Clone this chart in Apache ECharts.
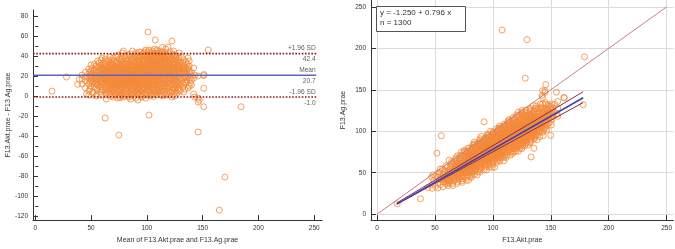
<!DOCTYPE html>
<html>
<head>
<meta charset="utf-8">
<script src="https://cdn.jsdelivr.net/npm/echarts@6/dist/echarts.min.js"></script>
<style>
  html, body { margin: 0; padding: 0; background: #fff; }
  #chart { width: 675px; height: 249px; }
</style>
</head>
<body>
<div id="chart"></div>
<script>
// Bland-Altman columns: mean of the two methods, and the differences read at that mean
const baMeans = [15, 28, 38, 39.5, 42, 45, 46, 48, 50, 52, 54.5, 57, 60, 62.7, 63.6, 64, 66, 68, 70, 72, 74, 75, 76, 78, 80, 82, 84, 85, 86, 88, 90, 92, 94, 95, 96, 98, 100, 101, 102, 104.5, 106, 107, 107.5, 108, 110, 112, 114, 116, 118, 119, 120, 122.5, 124, 126, 128, 130, 131, 132, 134, 136, 138, 140, 142, 143, 146, 147, 151, 155, 165, 170, 184.5];
const baDiffs = [
  [4.9], [19], [11.7], [16.6], [12, 17, 21], [8, 15, 19, 24], [2.3], [1, 5, 12, 18, 22, 27],
  [10, 16, 20, 25, 31], [3, 14, 19, 23], [0, 8, 12, 17, 21, 26, 30], [10, 15, 19, 24, 28, 33],
  [6, 11, 14, 18, 22, 26, 29, 38], [-22, 3, 9, 16, 20, 24, 30, 35], [-3], [1, 7, 12, 15, 18, 21, 25, 28],
  [5, 10, 14, 17, 20, 23, 27, 31, 36], [0, 8, 12, 16, 19, 22, 25, 29, 33],
  [-1, 4, 9, 13, 15, 18, 21, 24, 27, 31, 38], [2, 7, 11, 14, 17, 20, 22, 26, 30, 34],
  [-2, 5, 10, 13, 16, 19, 21, 24, 28, 32, 41], [-39],
  [-1.7, 1, 6, 9, 12, 15, 18, 20, 23, 26, 29, 35], [3, 8, 11, 14, 17, 19, 22, 25, 27, 31, 37, 43],
  [0, 5, 10, 13, 16, 18, 21, 24, 28, 33, 40], [2, 7, 12, 15, 17, 20, 23, 26, 30, 35],
  [-1, 4, 9, 11, 14, 19, 22, 25, 29, 32, 38], [42], [1, 6, 10, 13, 16, 18, 21, 24, 27, 31, 36],
  [3, 8, 12, 15, 17, 20, 23, 26, 30, 34, 39], [-2, 5, 9, 14, 16, 19, 22, 25, 28, 33, 37, 43],
  [-4, 2, 7, 11, 15, 18, 21, 24, 27, 30, 35, 41], [4, 9, 13, 17, 20, 23, 26, 29, 32, 38], [44],
  [0, 6, 11, 15, 19, 22, 25, 28, 31, 36, 42], [3, 8, 12, 16, 20, 24, 27, 30, 34, 39, 44],
  [1, 6, 10, 14, 18, 21, 25, 28, 33, 37, 41], [64], [-19, 4, 9, 13, 17, 22, 26, 29, 32, 36, 40, 46],
  [1.3, 7, 11, 15, 19, 23, 27, 31, 35, 38, 43], [-0.4, 5, 10, 16, 20, 24, 28, 32, 36, 40], [47], [56],
  [3, 8, 13, 18, 22, 26, 30, 34, 38, 42], [6, 11, 15, 20, 24, 27, 31, 35, 39, 45],
  [2, 9, 14, 18, 22, 26, 29, 33, 37, 41], [0, 7, 12, 17, 21, 25, 28, 32, 36, 40, 44, 48.5],
  [5, 10, 15, 19, 23, 27, 31, 34, 38, 43], [3, 9, 14, 21, 25, 28, 30, 35, 39], [49],
  [1, 8, 12, 18, 22, 26, 29, 33, 37, 42], [-1, 6, 11, 16, 20, 24, 28, 32, 36, 55],
  [2, 9, 14, 19, 23, 27, 31, 35, 40, 45], [5, 12, 17, 21, 25, 29, 33, 38], [8, 15, 20, 24, 28, 31, 36],
  [5, 11, 18, 23, 27, 30, 34], [38.7], [9, 13, 16, 22, 26, 33], [7, 14, 20, 25, 29], [16, 22, 27, 32],
  [10, 25, 30, 35], [11, 16, 20, 24], [2, 18, 28], [-1, 21], [-36, -2, -6, 20], [-4],
  [-10.7, 7.8, 20.5, 21.5], [46], [-114], [-81], [-10.7]
];

// more of the dense core, read between the columns above
const coreMeans = [49, 51, 53, 55.5, 56, 58.5, 59, 61, 63, 65, 67, 69, 71, 73, 75.5, 77, 79, 81, 83, 85.5, 87, 89, 91, 93, 95.5, 97, 99, 101.5, 103, 105, 107, 109, 111, 113, 115, 117, 119.5, 121, 123, 125, 127, 129, 133, 135, 137, 139];
const coreDiffs = [
  [7, 14, 20, 24], [4, 13, 18, 22, 28], [9, 16, 21, 26, 32], [2, 6, 14, 19, 23], [11, 17, 29, 35],
  [4, 9, 13, 17, 21, 25, 31], [1, 15, 20, 27, 36], [7, 12, 17, 21, 23, 28, 33],
  [5, 10, 14, 19, 22, 26, 32, 37], [3, 8, 13, 16, 19, 24, 29, 34], [2, 7, 11, 15, 18, 21, 26, 30, 39],
  [5, 10, 14, 17, 20, 23, 27, 32, 36], [1, 6, 11, 16, 19, 23, 25, 29, 35],
  [3, 8, 12, 15, 18, 22, 25, 28, 33, 39], [0, 4, 8, 11, 14, 17, 21, 24, 27, 31, 37],
  [2, 6, 10, 13, 16, 20, 24, 28, 33, 40], [-1, 4, 9, 12, 15, 21, 23, 26, 30, 35, 45],
  [2, 7, 11, 14, 17, 19, 22, 25, 29, 32, 38], [0, 5, 10, 13, 16, 18, 21, 24, 27, 31, 36, 41],
  [-3, 3, 7, 12, 15, 17, 20, 23, 26, 30, 34, 39], [2, 6, 11, 14, 19, 22, 25, 28, 32, 37, 45],
  [0, 4, 10, 13, 16, 18, 21, 24, 27, 31, 35, 41], [3, 7, 12, 15, 17, 20, 23, 26, 29, 34, 39],
  [1, 5, 9, 13, 16, 19, 22, 25, 28, 32, 36, 44], [-1, 2, 7, 11, 14, 18, 21, 24, 27, 30, 34, 40],
  [4, 9, 13, 17, 21, 23, 26, 29, 33, 37, 43], [-2, 2, 7, 11, 15, 19, 22, 26, 29, 32, 35, 40, 46],
  [5, 8, 12, 16, 20, 23, 27, 30, 34, 38, 44], [0, 3, 10, 14, 18, 21, 24, 28, 31, 35, 39, 42],
  [2, 6, 9, 13, 17, 21, 25, 29, 33, 37, 41, 45], [4, 7, 12, 15, 19, 23, 26, 30, 34, 38, 43],
  [1, 5, 10, 14, 17, 21, 25, 28, 32, 36, 40, 46], [4, 8, 12, 16, 20, 23, 27, 30, 34, 38, 43],
  [1, 5, 10, 15, 19, 24, 27, 31, 35, 39, 45], [3, 9, 13, 16, 20, 23, 26, 30, 34, 38, 42],
  [1, 7, 12, 17, 22, 25, 29, 33, 37, 41, 47], [5, 10, 15, 19, 24, 27, 31, 34, 40],
  [3, 13, 17, 21, 25, 30, 35, 39, 44], [4, 8, 12, 18, 22, 26, 29, 33, 38, 42],
  [0, 7, 11, 16, 20, 24, 28, 32, 36, 41], [3, 10, 14, 19, 23, 27, 30, 35, 40],
  [6, 12, 17, 22, 26, 29, 33, 38, 43], [4, 11, 18, 24, 28, 31, 36], [13, 19, 23, 27, 34],
  [8, 20, 28, 38], [13, 18, 22]
];

// limits of agreement
const limitValues = [42.4, 20.7, -1.0];
const limitNames = ['+1.96 SD', 'Mean', '-1.96 SD'];
const limitLabels = ['42.4', '20.7', '-1.0'];
const limitSpan = [-2, 251.8];

// regression panel
const identityLine = [[0, 0], [250, 250]];
const regLine = [[17, 12.28], [178, 140.44]];
const regUpper = [[17, 13.5], [178, 147.7]];
const regLower = [[17, 12.0], [178, 134.6]];
const regText = ['y = -1.250 + 0.796 x', 'n = 1300'];

const majorTicks = [0, 50, 100, 150, 200, 250];
const baYTicks = [-120, -100, -80, -60, -40, -20, 0, 20, 40, 60, 80];
const baYMinor = [-110, -90, -70, -50, -30, -10, 10, 30, 50, 70];

const baPoints = [];
const pairPoints = [];
function addColumns(means, diffs) {
  means.forEach((m, i) => {
    diffs[i].forEach(d => {
      baPoints.push([m, d]);
      pairPoints.push([m + d / 2, m - d / 2]); // Akt, Ag
    });
  });
}
addColumns(baMeans, baDiffs);
addColumns(coreMeans, coreDiffs);

const FONT = '"Liberation Sans", Arial, sans-serif';
const INK = '#333';
const ORANGE = '#f28a3a';

function axisBase(extra) {
  return Object.assign({
    type: 'value',
    axisLine: {show: true, onZero: false, lineStyle: {color: INK, width: 1}},
    axisTick: {show: true, inside: true, length: 5, customValues: majorTicks, lineStyle: {color: INK}},
    axisLabel: {customValues: majorTicks, fontSize: 6.5, color: INK, fontFamily: FONT, margin: 5},
    splitLine: {show: false},
    nameLocation: 'middle',
    nameTextStyle: {fontSize: 7, color: INK, fontFamily: FONT}
  }, extra);
}

const pts = {
  type: 'scatter',
  symbol: 'circle',
  symbolSize: 6,
  itemStyle: {color: 'rgba(0,0,0,0)', borderColor: ORANGE, borderWidth: 1},
  z: 2
};

function seg(data, xi, yi, style) {
  return {type: 'line', xAxisIndex: xi, yAxisIndex: yi, data: data, symbol: 'none',
    lineStyle: style, z: 5, silent: true};
}

const series = [
  Object.assign({name: 'ba', xAxisIndex: 0, yAxisIndex: 0, data: baPoints}, pts),
  Object.assign({name: 'pairs', xAxisIndex: 1, yAxisIndex: 2, data: pairPoints}, pts)
];

limitValues.forEach((v, i) => {
  const isMean = i === 1;
  series.push(seg([[limitSpan[0], v], [limitSpan[1], v]], 0, 0,
    isMean ? {color: '#5a62c4', width: 1.5} : {color: '#8e1a1a', width: 1.6, type: 'dotted'}));
  series.push({
    type: 'scatter', xAxisIndex: 0, yAxisIndex: 0, symbolSize: 1, silent: true, z: 6,
    itemStyle: {color: 'rgba(0,0,0,0)'},
    data: [
      {value: [limitSpan[1] - 0.5, v], label: {show: true, formatter: limitNames[i], position: 'top', distance: 1, align: 'right'}},
      {value: [limitSpan[1] - 0.5, v], label: {show: true, formatter: limitLabels[i], position: 'bottom', distance: 2, align: 'right'}}
    ],
    label: {fontSize: 6.6, color: INK, fontFamily: FONT}
  });
});

series.push(seg(identityLine, 1, 2, {color: '#c47f7f', width: 1}));
series.push(seg(regUpper, 1, 2, {color: '#8a2a4a', width: 1}));
series.push(seg(regLower, 1, 2, {color: '#8a2a4a', width: 1}));
series.push(seg(regLine, 1, 2, {color: '#3a3fb8', width: 1.5}));

const chart = echarts.init(document.getElementById('chart'), null, {renderer: 'canvas'});
chart.setOption({
  animation: false,
  textStyle: {fontFamily: FONT},
  grid: [
    {left: 33, top: 10, width: 289, height: 215},
    {left: 371, top: 0, width: 303, height: 224}
  ],
  xAxis: [
    axisBase({gridIndex: 0, min: -2, max: 257, name: 'Mean of F13.Akt.prae and F13.Ag.prae', nameGap: 14}),
    axisBase({gridIndex: 1, min: -5.2, max: 256, name: 'F13.Akt.prae', nameGap: 14,
      splitLine: {show: true, lineStyle: {color: '#dcdcdc', width: 1}}})
  ],
  yAxis: [
    axisBase({gridIndex: 0, position: 'left', min: -124, max: 86,
      axisTick: {show: true, inside: true, length: 5, customValues: baYTicks, lineStyle: {color: INK}},
      axisLabel: {customValues: baYTicks, fontSize: 6.5, color: INK, fontFamily: FONT, margin: 5},
      name: 'F13.Akt.prae - F13.Ag.prae', nameGap: 20}),
    {type: 'value', gridIndex: 0, position: 'left', min: -124, max: 86,
      axisLine: {show: false}, axisLabel: {show: false}, splitLine: {show: false},
      axisTick: {show: true, inside: true, length: 3, customValues: baYMinor, lineStyle: {color: INK}}},
    axisBase({gridIndex: 1, position: 'left', min: -7.1, max: 258.3, name: 'F13.Ag.prae', nameGap: 24,
      splitLine: {show: true, lineStyle: {color: '#dcdcdc', width: 1}}})
  ],
  graphic: [
    {type: 'rect', left: 376, top: 6, shape: {width: 89, height: 25},
      style: {fill: '#fff', stroke: '#555', lineWidth: 1}, z: 100},
    {type: 'text', left: 380, top: 9, z: 101,
      style: {text: regText[0], fontSize: 8, fill: INK, fontFamily: FONT}},
    {type: 'text', left: 380, top: 19, z: 101,
      style: {text: regText[1], fontSize: 8, fill: INK, fontFamily: FONT}}
  ],
  series: series
});
</script>
</body>
</html>
